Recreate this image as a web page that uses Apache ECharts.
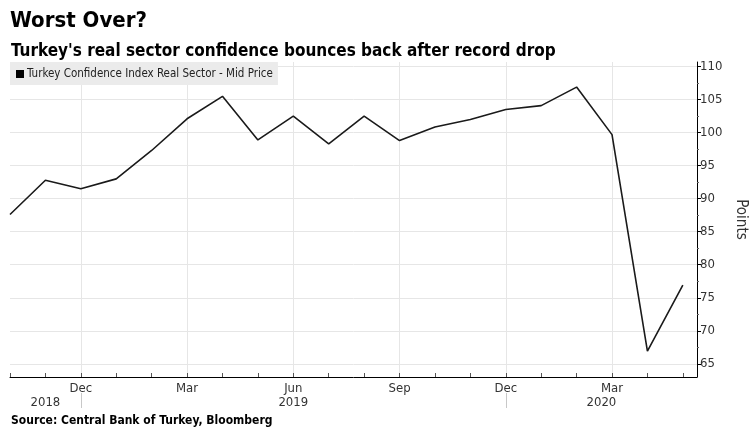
<!DOCTYPE html>
<html>
<head>
<meta charset="utf-8">
<title>Worst Over?</title>
<script src="https://cdn.jsdelivr.net/npm/echarts@6/dist/echarts.min.js"></script>
<style>
  html, body { margin: 0; padding: 0; background: #fff; }
  #main { width: 751px; height: 440px; }
</style>
</head>
<body>
<div id="main"></div>
<script>
// months since Oct 2018 (0 = Oct 2018 ... 19 = May 2020)
var months = [0, 1, 2, 3, 4, 5, 6, 7, 8, 9, 10, 11, 12, 13, 14, 15, 16, 17, 18, 19]
var confidence = [87.6, 92.8, 91.5, 93.0, 97.3, 102.1, 105.5, 98.9, 102.5, 98.3,
  102.5, 98.8, 100.85, 102.0, 103.5, 104.1, 106.9, 99.7, 66.9, 76.9]

var monthTicks = months
var monthLabelPos = [2, 5, 8, 11, 14, 17]
var monthLabels = ['Dec', 'Mar', 'Jun', 'Sep', 'Dec', 'Mar']
var yearSepPos = [2, 14]
var yearLabelPos = [1, 8, 16.7]
var yearLabels = ['2018', '2019', '2020']
var yTicks = [65, 70, 75, 80, 85, 90, 95, 100, 105, 110]
var yMinorTicks = [67.5, 72.5, 77.5, 82.5, 87.5, 92.5, 97.5, 102.5, 107.5]

var FONT = '"DejaVu Sans Condensed", "DejaVu Sans", sans-serif'
var X_MIN = 0
var X_MAX = 19.4
var Y_MIN = 63
var Y_MAX = 110.7

var chart = echarts.init(document.getElementById('main'))

var seriesData = []
for (var i = 0; i < months.length; i++) {
  seriesData.push([months[i], confidence[i]])
}

function pick(list, labels) {
  return function (v) {
    for (var k = 0; k < list.length; k++) {
      if (Math.abs(list[k] - v) < 1e-6) return labels[k]
    }
    return ''
  }
}

var option = {
  animation: false,
  textStyle: { fontFamily: FONT },
  title: [
    {
      text: 'Worst Over?',
      left: 5, top: 5,
      textStyle: { fontFamily: FONT, fontSize: 22, fontWeight: 'bold', color: '#000' }
    },
    {
      text: "Turkey's real sector confidence bounces back after record drop",
      left: 6, top: 38,
      textStyle: { fontFamily: FONT, fontSize: 17, fontWeight: 'bold', color: '#000' }
    },
    {
      text: 'Source: Central Bank of Turkey, Bloomberg',
      left: 6, top: 410,
      textStyle: { fontFamily: FONT, fontSize: 12, fontWeight: 'bold', color: '#000' }
    }
  ],
  legend: {
    left: 10, top: 62,
    backgroundColor: '#ebebeb',
    padding: [6, 5, 5, 6],
    itemWidth: 8, itemHeight: 8,
    itemGap: 4,
    icon: 'rect',
    textStyle: { fontFamily: FONT, fontSize: 11.5, color: '#222', padding: [0, 0, 0, -2] },
    data: ['Turkey Confidence Index Real Sector - Mid Price']
  },
  grid: { left: 10, right: 54, top: 62, bottom: 63, outerBoundsMode: 'none', containLabel: false },
  xAxis: [
    {
      type: 'value', min: X_MIN, max: X_MAX, position: 'bottom',
      axisLine: { show: true, onZero: false, lineStyle: { color: '#000', width: 1 } },
      axisTick: { show: true, inside: true, length: 4, customValues: monthTicks, lineStyle: { color: '#555' } },
      axisLabel: {
        show: true, customValues: monthLabelPos, margin: 5,
        fontFamily: FONT, fontSize: 13, color: '#333',
        formatter: pick(monthLabelPos, monthLabels)
      },
      splitLine: { show: false }
    },
    {
      type: 'value', min: X_MIN, max: X_MAX, position: 'top',
      axisLine: { show: false, onZero: false },
      axisTick: { show: false, customValues: monthLabelPos },
      axisLabel: { show: false, customValues: monthLabelPos },
      splitLine: { show: true, lineStyle: { color: '#e6e6e6', width: 1 } }
    },
    {
      type: 'value', min: X_MIN, max: X_MAX, position: 'bottom', offset: 16,
      axisLine: { show: false, onZero: false },
      axisTick: { show: true, length: 15, customValues: yearSepPos, lineStyle: { color: '#c8c8c8' } },
      axisLabel: {
        show: true, customValues: yearLabelPos, margin: 3,
        fontFamily: FONT, fontSize: 13, color: '#333',
        formatter: pick(yearLabelPos, yearLabels)
      },
      splitLine: { show: false }
    }
  ],
  yAxis: [
    {
      type: 'value', min: Y_MIN, max: Y_MAX, position: 'right',
      name: 'Points', nameLocation: 'middle', nameRotate: -90, nameGap: 30,
      nameTextStyle: { fontFamily: FONT, fontSize: 15, color: '#333' },
      axisLine: { show: true, onZero: false, lineStyle: { color: '#000', width: 1 } },
      axisTick: { show: true, length: 4, customValues: yTicks, lineStyle: { color: '#000' } },
      axisLabel: {
        show: true, customValues: yTicks, margin: 3,
        fontFamily: FONT, fontSize: 13, color: '#333'
      },
      splitLine: { show: true, lineStyle: { color: '#e6e6e6', width: 1 } }
    },
    {
      // short ticks halfway between the labelled ones
      type: 'value', min: Y_MIN, max: Y_MAX, position: 'right',
      axisLine: { show: false, onZero: false },
      axisTick: { show: true, length: 2, customValues: yMinorTicks, lineStyle: { color: '#666' } },
      axisLabel: { show: false, customValues: yMinorTicks },
      splitLine: { show: false }
    }
  ],
  series: [
    {
      name: 'Turkey Confidence Index Real Sector - Mid Price',
      type: 'line',
      xAxisIndex: 0,
      yAxisIndex: 0,
      data: seriesData,
      showSymbol: false,
      symbol: 'none',
      itemStyle: { color: '#000' },
      lineStyle: { color: '#1a1a1a', width: 1.6 }
    }
  ]
}

chart.setOption(option)
</script>
</body>
</html>
